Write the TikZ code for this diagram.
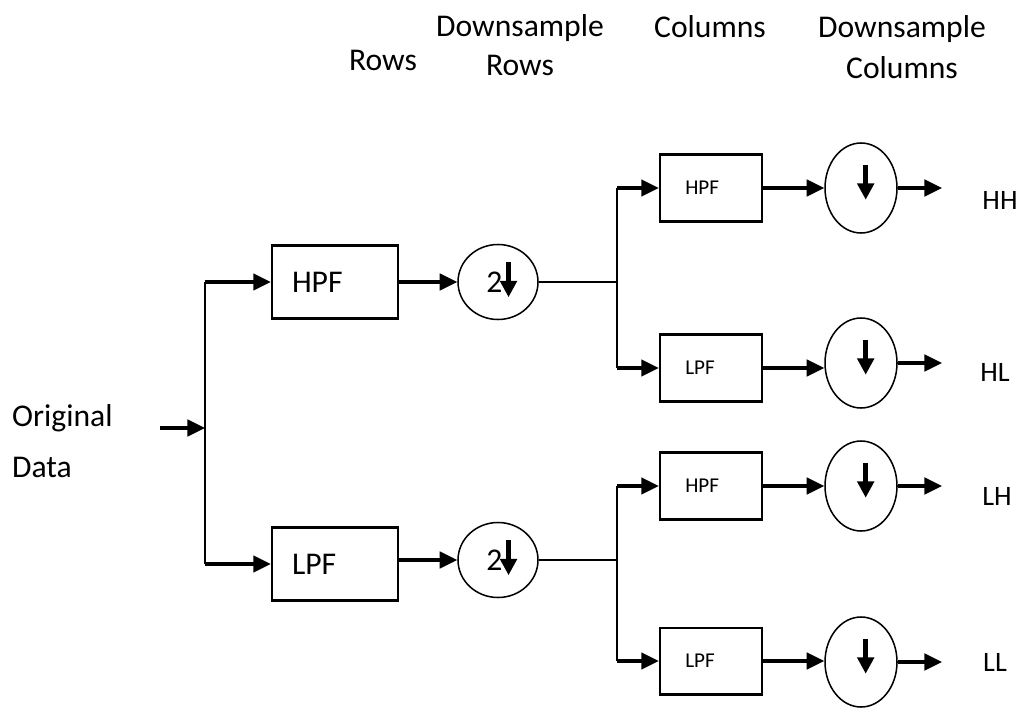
\documentclass[tikz,border=0pt]{standalone}
\usepackage{fontspec}
\setmainfont{Carlito}
\usetikzlibrary{arrows.meta,positioning,calc,shapes.geometric}
\tikzset{
  flowarr/.style={-{Triangle[length=15pt,width=14pt]}, line width=2.8pt},
  wire/.style={line width=1.5pt},
  filtbox/.style={draw, line width=2pt, inner ysep=0pt, align=left},
  sampler/.style={draw, ellipse, line width=1.3pt, inner sep=0pt},
  downarr/.style={-{Triangle[length=14pt,width=14pt]}, line width=3.8pt},
}

\begin{document}
\begin{tikzpicture}[
  x=0.03cm, y=-0.03cm,
  font=\fontsize{27}{32}\selectfont,
  bigbox/.style={filtbox, minimum width=3.78cm, minimum height=2.19cm, inner xsep=0.6cm, text width=2.58cm},
  smallbox/.style={filtbox, minimum width=3.06cm, minimum height=2cm, inner xsep=0.76cm, text width=1.54cm, font=\fontsize{18}{21}\selectfont},
  rowds/.style={sampler, minimum width=2.4cm, minimum height=2.25cm},
  colds/.style={sampler, minimum width=2.16cm, minimum height=2.7cm},
  outlbl/.style={font=\fontsize{24}{28}\selectfont},
]
  \useasboundingbox (0,0) rectangle (1021,707);
  % column headings
  \node (hrows) at (383,60) {Rows};
  \node[align=center] (hdsrows) at (520,45) {Downsample\\[1pt]Rows};
  \node (hcols) at (710,27) {Columns};
  \node[align=center] (hdscols) at (902,47) {Downsample\\[3pt]Columns};
  % input
  \node[align=left, anchor=west] (orig) at (8,441) {Original\\[11pt]Data};
  \coordinate (in) at (160,428);
  \coordinate (split) at (205,428);
  % row filters
  \node[bigbox] (hpf) at (335,282) {HPF};
  \node[bigbox] (lpf) at (335,564) {LPF};
  \node[rowds] (dsh) at (498,282) {2\kern6pt};
  \node[rowds] (dsl) at (498,560) {2\kern6pt};
  \coordinate (splith) at (617,282);
  \coordinate (splitl) at (617,560);
  % column filters
  \node[smallbox] (hh) at (711,188) {HPF};
  \node[smallbox] (hl) at (711,368) {LPF};
  \node[smallbox] (lh) at (711,486) {HPF};
  \node[smallbox] (ll) at (711,661) {LPF};
  \node[colds] (dshh) at (861,188) {};
  \node[colds] (dshl) at (861,363) {};
  \node[colds] (dslh) at (861,486) {};
  \node[colds] (dsll) at (861,662) {};
  \coordinate (ohh) at (942,188);
  \coordinate (ohl) at (942,363);
  \coordinate (olh) at (942,486);
  \coordinate (oll) at (942,662);
  \node[outlbl] (lhh) at (1000,200) {HH};
  \node[outlbl] (lhl) at (995,372) {HL};
  \node[outlbl] (llh) at (997,496) {LH};
  \node[outlbl] (lll) at (995,662) {LL};
  % connectors
  \draw[flowarr] (in) -- (split);
  \draw[wire] (hpf.west -| split) -- (lpf.west -| split);
  \draw[flowarr] (hpf.west -| split) -- (hpf.west);
  \draw[flowarr] (lpf.west -| split) -- (lpf.west);
  \draw[flowarr] (hpf.east) -- (dsh.west);
  \draw[flowarr] (lpf.east |- dsl.west) -- (dsl.west);
  \draw[wire] (dsh.east) -- (splith);
  \draw[wire] (dsl.east) -- (splitl);
  \draw[wire] (hh.west -| splith) -- (hl.west -| splith);
  \draw[wire] (lh.west -| splitl) -- (ll.west -| splitl);
  \foreach \f/\s/\o in {hh/dshh/ohh, hl/dshl/ohl, lh/dslh/olh, ll/dsll/oll}{
    \draw[flowarr] (\f.west -| splith) -- (\f.west);
    \draw[flowarr] (\f.east) -- (\f.east -| \s.west);
    \draw[flowarr] (\s.east) -- (\o);
    \draw[downarr] ([xshift=4pt,yshift=20pt]\s.center) -- ([xshift=4pt,yshift=-10pt]\s.center);
  }
  \foreach \s in {dsh, dsl}{
    \draw[downarr] ([xshift=9pt,yshift=17pt]\s.center) -- ([xshift=9pt,yshift=-13pt]\s.center);
  }
\end{tikzpicture}
\end{document}
